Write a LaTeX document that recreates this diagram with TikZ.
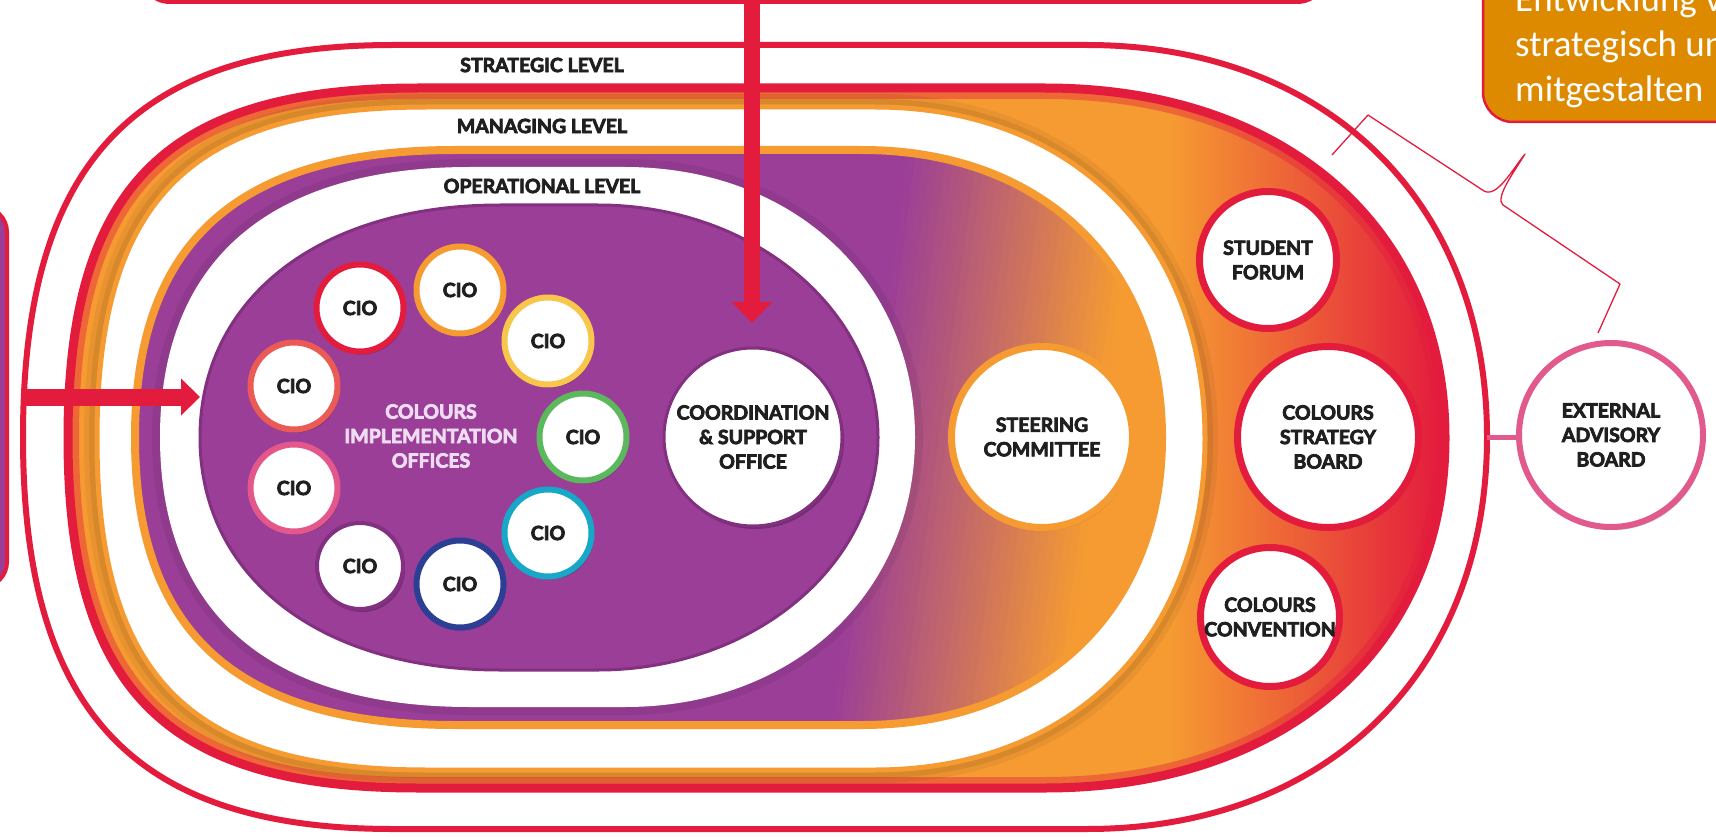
\documentclass[tikz,border=0pt]{standalone}
\usepackage{fontspec}
\setmainfont{Lato}
\newfontfamily\heavy{Lato}[UprightFont={* Bold}, UprightFeatures={FakeBold=4}]
\newfontfamily\calib{Carlito}
\usetikzlibrary{arrows.meta,shadows}
\definecolor{cRed}{HTML}{E31C3D}
\definecolor{cOrange}{HTML}{F59B32}
\definecolor{cPurple}{HTML}{9A3E97}
\definecolor{cPurpleDk}{HTML}{82307F}
\definecolor{cLav}{HTML}{EEDDF2}
\definecolor{cCall}{HTML}{DE8A00}
\definecolor{cPink}{HTML}{E25A8D}
\definecolor{cYellow}{HTML}{F8C64A}
\definecolor{cCoral}{HTML}{EC5A55}
\definecolor{cGreen}{HTML}{5CB85C}
\definecolor{cCyan}{HTML}{17A8C8}
\definecolor{cBlue}{HTML}{2D3E95}
\definecolor{cCioPink}{HTML}{E4578B}
\definecolor{cText}{HTML}{1F1F1F}
\newcommand\lbl{\heavy\fontsize{19.5}{24.5}\selectfont}
% L T R B aleft aright kleft kright  (vertical radius = half height)
\newcommand\stad[8]{({#1+#5},{#2}) -- ({#3-#6},{#2})
 .. controls ({#3-#6+#8*#6},{#2}) and ({#3},{(#2+#4)/2-#8*(#4-#2)/2}) .. ({#3},{(#2+#4)/2})
 .. controls ({#3},{(#2+#4)/2+#8*(#4-#2)/2}) and ({#3-#6+#8*#6},{#4}) .. ({#3-#6},{#4})
 -- ({#1+#5},{#4})
 .. controls ({#1+#5-#7*#5},{#4}) and ({#1},{(#2+#4)/2+#7*(#4-#2)/2}) .. ({#1},{(#2+#4)/2})
 .. controls ({#1},{(#2+#4)/2-#7*(#4-#2)/2}) and ({#1+#5-#7*#5},{#2}) .. ({#1+#5},{#2}) -- cycle}
\def\pA{\stad{23}{45}{1487}{829}{370}{400}{0.7}{0.6}}
\def\pB{\stad{68}{88}{1445}{788}{350}{400}{0.72}{0.6}}
\def\pC{\stad{97}{107}{1205}{770}{330}{330}{0.72}{0.6}}
\def\pD{\stad{135}{150}{1162}{725}{320}{300}{0.68}{0.6}}
\def\pE{\stad{160}{167}{915}{707}{310}{290}{0.65}{0.58}}
\def\pF{\stad{200}{205}{878}{670}{300}{280}{0.6}{0.552}}
\tikzset{
 shd/.style={drop shadow={shadow xshift=2pt, shadow yshift=-3pt, opacity=0.25, fill=black}},
 cio/.style={circle, fill=white, line width=6pt, minimum size=87pt, inner sep=0pt, font=\lbl, text=cText, shd},
 big/.style={circle, fill=white, line width=7pt, inner sep=0pt, font=\lbl, text=cText, align=center, shd},
 lvl/.style={font=\lbl, text=cText, inner sep=0pt},
 calltxt/.style={anchor=base west, inner sep=0pt, text=white, font=\calib\fontsize{37}{45}\selectfont},
}
\begin{document}
\begin{tikzpicture}[x=1pt,y=-1pt]
\useasboundingbox (0,0) rectangle (1716,837);
% strategic outer
\fill[black, opacity=0.1] ([xshift=2pt,yshift=-3pt]0,0) \pA;
\filldraw[fill=white, draw=cRed, line width=6pt] \pA;
% strategic fill
\begin{scope}
 \clip \pB;
 \fill[cOrange] (0,0) rectangle (1716,837);
 \shade[left color=cOrange, right color=cRed] (1170,0) rectangle (1440,837);
 \fill[cRed] (1440,0) rectangle (1716,837);
 \draw[cRed, opacity=0.4, line width=22pt] \pB;
 \draw[black, opacity=0.07, line width=16pt] \pC;
 \draw[black, opacity=0.05, line width=26pt] \pC;
\end{scope}
\draw[cRed, line width=9pt] \pB;
% managing band
\filldraw[fill=white, draw=cOrange, line width=5pt] \pC;
% managing fill: purple to orange, slightly diagonal
\begin{scope}
 \clip \pD;
 \fill[cPurple] (0,0) rectangle (1716,837);
 \foreach \i in {0,...,29}{
  \pgfmathsetmacro\xa{870+230*\i/30}
  \pgfmathsetmacro\xb{870+230*(\i+1)/30+1.5}
  \pgfmathsetmacro\pc{100*(\i+0.5)/30}
  \fill[cOrange!\pc!cPurple] ({\xa+45},100) -- ({\xb+45},100) -- ({\xb-45},775) -- ({\xa-45},775) -- cycle;
 }
 \fill[cOrange] (1145,100) -- (1716,100) -- (1716,775) -- (1055,775) -- cycle;
 \draw[black, opacity=0.06, line width=16pt] \pE;
\end{scope}
\draw[cOrange, line width=8pt] \pD;
% operational band
\fill[white] \pE;
\filldraw[fill=cPurple, draw=cPurpleDk, line width=3pt] \pF;
% level labels
\node[lvl] (lstrat) at (542,65) {STRATEGIC LEVEL};
\node[lvl] (lmanag) at (542,126) {MANAGING LEVEL};
\node[lvl] (loper) at (542,186) {OPERATIONAL LEVEL};
% CIOs
\node[cio, draw=cGreen] (cio1) at (583,437) {CIO};
\node[cio, draw=cYellow] (cio2) at (548,341) {CIO};
\node[cio, draw=cOrange] (cio3) at (460,290) {CIO};
\node[cio, draw=cRed] (cio4) at (360,308) {CIO};
\node[cio, draw=cCoral] (cio5) at (294,386) {CIO};
\node[cio, draw=cCioPink] (cio6) at (294,488) {CIO};
\node[cio, draw=cPurpleDk, line width=4pt, minimum size=86pt] (cio7) at (360,566) {CIO};
\node[cio, draw=cBlue] (cio8) at (460,584) {CIO};
\node[cio, draw=cCyan] (cio9) at (548,533) {CIO};
\node[lvl, text=cLav, align=center] (cioc) at (431,436) {COLOURS\\IMPLEMENTATION\\OFFICES};
% central offices
\node[big, draw=cPurpleDk, line width=3pt, minimum size=178pt] (cso) at (753,437) {COORDINATION\\\& SUPPORT\\OFFICE};
\node[big, draw=cOrange, minimum size=181pt] (steer) at (1042,437) {STEERING\\COMMITTEE};
\node[big, draw=cRed, minimum size=137pt] (forum) at (1268,260) {STUDENT\\FORUM};
\node[big, draw=cRed, minimum size=181pt] (board) at (1328,437) {COLOURS\\STRATEGY\\BOARD};
\node[big, draw=cRed, minimum size=139pt] (conv) at (1270,617) {COLOURS\\CONVENTION};
\node[big, draw=cPink, line width=6pt, minimum size=184pt] (ext) at (1611,435) {EXTERNAL\\ADVISORY\\BOARD};
\coordinate (extstart) at (1487,437);
\draw[cPink, line width=5pt] (extstart) -- (ext.west |- extstart);
% top box and arrow
\node[draw=cRed, fill=white, line width=4pt, rounded corners=30pt, minimum width=1187pt, minimum height=200pt, inner sep=0pt] (topbox) at (733.5,-98) {};
\coordinate (vtip) at (752,323);
\draw[cRed, line width=16pt, -{Triangle[width=39pt,length=21pt]}] (topbox.south -| vtip) -- (vtip);
% left box and arrow
\node[draw=cRed, fill=cPurple, line width=4pt, rounded corners=25pt, minimum width=200pt, minimum height=380pt, inner sep=0pt] (leftbox) at (-93,397) {};
\coordinate (hstart) at (23,397);
\coordinate (htip) at (200,397);
\draw[cRed, line width=17pt, -{Triangle[width=36pt,length=19pt]}] (hstart) -- (htip);
% callout
\node[draw=cRed, fill=cCall, line width=2.5pt, rounded corners=30pt, minimum width=400pt, minimum height=300pt, inner sep=0pt] (callout) at (1683,-28) {};
\node[calltxt] (ct1) at (1515,12) {Entwicklung v};
\node[calltxt] (ct2) at (1515,57) {strategisch un};
\node[calltxt] (ct3) at (1515,102) {mitgestalten};
% brace
\draw[cRed, line width=1.3pt, line join=round] (1332,155) -- (1368,115) -- (1484,191)
 .. controls (1497,198) and (1512,170) .. (1525,154)
 .. controls (1512,175) and (1495,198) .. (1503,205) -- (1620,284) -- (1598,333);
\end{tikzpicture}
\end{document}
